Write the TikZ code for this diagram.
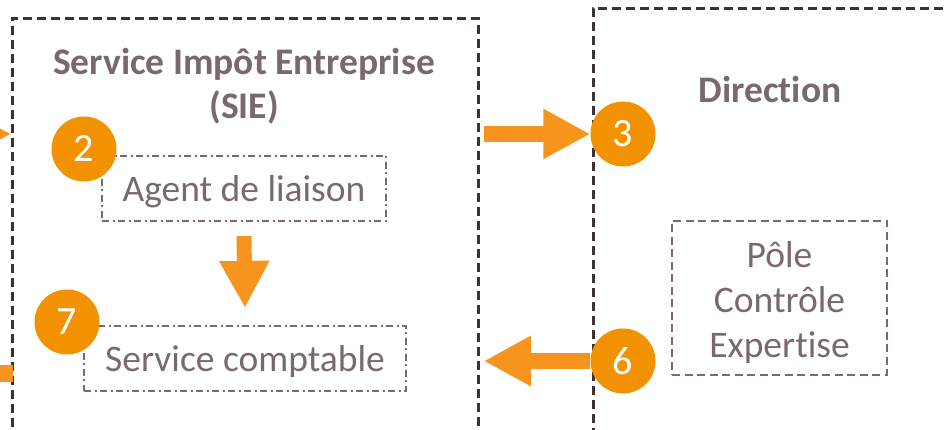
\documentclass[tikz,border=0pt]{standalone}
\usepackage{fontspec}
\setmainfont{Carlito}[Ligatures=NoCommon]
\usetikzlibrary{arrows.meta}
\definecolor{txt}{HTML}{7A6870}
\definecolor{frame}{HTML}{3D3135}
\definecolor{orng}{HTML}{F39200}
\definecolor{arr}{HTML}{F7941D}
\begin{document}
\begin{tikzpicture}[x=1pt,y=-1pt,
  bigbox/.style={draw=frame, line width=2.8pt, dash pattern=on 9pt off 5pt, inner sep=0pt, anchor=north west},
  dotbox/.style={draw=txt, line width=2.2pt, dash pattern=on 7pt off 3.5pt on 2pt off 3.5pt, inner sep=0pt,
    text=txt, font=\fontsize{37.5}{46}\selectfont, text height=27pt, text depth=0pt},
  dashbox/.style={draw=txt, line width=2.2pt, dash pattern=on 8pt off 4.5pt, inner sep=0pt},
  lbl/.style={text=txt, font=\fontsize{37.5}{45}\selectfont, align=center, inner sep=0pt},
  ttl/.style={text=txt, font=\bfseries\fontsize{37.5}{44}\selectfont, align=center},
  num/.style={circle, fill=orng, minimum size=65pt, inner sep=0pt, text=white, font=\fontsize{40}{40}\selectfont},
  blockarrow/.style={draw=arr, line width=16pt, -{Triangle[length=47pt,width=47pt]}}]
\useasboundingbox (0,0) rectangle (946,430);
\clip (0,0) rectangle (946,430);
% big frames
\node[bigbox, minimum width=466pt, minimum height=460pt] (sie) at (11,17) {};
\node[bigbox, minimum width=400pt, minimum height=460pt] (dir) at (592,7) {};
% titles
\node[ttl, anchor=base] (sietitle) at (244,119) {Service Impôt Entreprise\\(SIE)};
\node[ttl, anchor=base] (dirtitle) at (770,103) {Direction};
% inner boxes
\node[dotbox, minimum width=284pt, minimum height=65pt] (agent) at (244,188.5) {Agent de liaison};
\node[dotbox, minimum width=322pt, minimum height=65pt] (compta) at (245,358.5) {Service comptable};
\node[dashbox, minimum width=215pt, minimum height=154pt] (pole) at (779.5,298) {};
\node[lbl] (poletxt) at (779.5,303) {Pôle\\Contrôle\\Expertise};
% circles
\node[num] (c2) at (84,149) {2};
\node[num] (c7) at (67,322) {7};
\node[num] (c3) at (623,134) {3};
\node[num] (c6) at (623,361) {6};
% off-picture ends
\coordinate (inL) at (-80,134);
\coordinate (outL) at (-80,373.5);
% arrows
\draw[blockarrow] (inL) -- (sie.west |- inL);
\draw[blockarrow, line width=17pt] ([xshift=2pt]sie.west |- outL) -- (outL);
\draw[blockarrow] ([xshift=4pt]sie.east |- c3.center) -- (c3.west);
\draw[blockarrow] (c6.west) -- ([xshift=4pt]sie.east |- c6.center);
\draw[blockarrow, line width=15pt] ([yshift=-14pt]agent.south) -- ([yshift=17pt]compta.north);
\end{tikzpicture}
\end{document}
